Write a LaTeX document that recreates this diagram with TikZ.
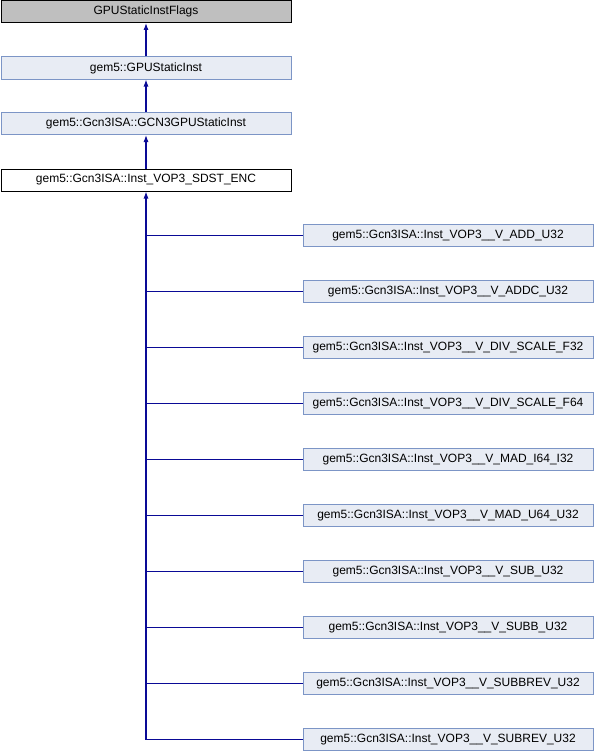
\documentclass[tikz,border=0pt]{standalone}
\usepackage{fontspec}
\setmainfont{Liberation Sans}
\usepackage{xcolor}
\usepackage{tikz}
\usetikzlibrary{positioning, arrows.meta}
\definecolor{boxfill}{RGB}{232,236,244}
\definecolor{boxline}{RGB}{124,149,198}
\definecolor{edgeblue}{RGB}{10,10,150}

\begin{document}
\begin{tikzpicture}[x=1pt, y=-1pt,
  cls/.style={draw=boxline, fill=boxfill, line width=1pt, minimum width=290pt, minimum height=22pt, inner sep=0pt, font=\fontsize{12}{14}\selectfont},
  edge/.style={draw=edgeblue, line width=1.1pt}]
\useasboundingbox (0,0) rectangle (594,752);
\node[cls, draw=black, fill=black!25] (flags) at (146,11.5) {GPUStaticInstFlags};
\node[cls] (gpu) at (146,68) {gem5::GPUStaticInst};
\node[cls] (gcn) at (146,123.5) {gem5::Gcn3ISA::GCN3GPUStaticInst};
\node[cls, draw=black, fill=white] (enc) at (146,180) {gem5::Gcn3ISA::Inst\_VOP3\_SDST\_ENC};
\draw[edge, -{Latex[length=7pt,width=5pt]}] (gpu) -- (flags);
\draw[edge, -{Latex[length=7pt,width=5pt]}] (gcn) -- (gpu);
\draw[edge, -{Latex[length=7pt,width=5pt]}] (enc) -- (gcn);
\foreach \op [count=\i] in {ADD\_U32, ADDC\_U32, DIV\_SCALE\_F32, DIV\_SCALE\_F64, MAD\_I64\_I32, MAD\_U64\_U32, SUB\_U32, SUBB\_U32, SUBBREV\_U32, SUBREV\_U32}
  \node[cls] (op\i) at (448,{235.5+56*(\i-1)}) {gem5::Gcn3ISA::Inst\_VOP3\_\_V\_\op};
\draw[edge, {Latex[length=7pt,width=5pt]}-] (enc) |- (op10);
\foreach \i in {1,...,9}
  \draw[edge] (op\i) -- (enc.south |- op\i.west);
\end{tikzpicture}
\end{document}
